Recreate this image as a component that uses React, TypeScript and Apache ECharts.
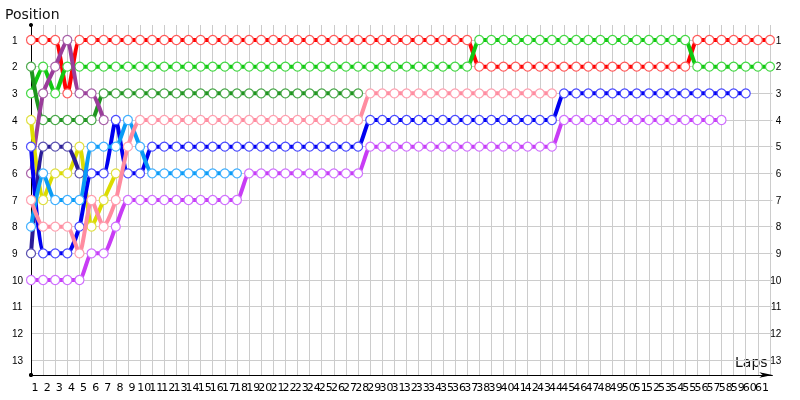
import React, { useEffect, useRef } from "react";
import * as echarts from "echarts";

// Lap 0 = grid position, then laps 1..61
const drivers = ["Red", "Green", "Dark Green", "Purple", "Yellow", "Navy", "Blue", "Light Blue", "Pink", "Violet"];
const lineColors = ["#ff0000", "#11c811", "#1f951f", "#9a3d9a", "#dcdc00", "#2a1c98", "#0000f0", "#0a9cf5", "#ff8ca0", "#c83cf5"];
const markerColors = ["#ff5a5a", "#44d844", "#4aa84a", "#a860a8", "#e0e040", "#5a50b0", "#4a4aff", "#40b0ff", "#ffa0b0", "#d070ff"];

const redPos = [1, 1, 1, 3, 1, 1, 1, 1, 1, 1, 1, 1, 1, 1, 1, 1, 1, 1, 1, 1, 1, 1, 1, 1, 1, 1, 1, 1, 1, 1, 1, 1, 1, 1, 1, 1, 1, 2, 2, 2, 2, 2, 2, 2, 2, 2, 2, 2, 2, 2, 2, 2, 2, 2, 2, 1, 1, 1, 1, 1, 1, 1];
const greenPos = [3, 2, 3, 2, 2, 2, 2, 2, 2, 2, 2, 2, 2, 2, 2, 2, 2, 2, 2, 2, 2, 2, 2, 2, 2, 2, 2, 2, 2, 2, 2, 2, 2, 2, 2, 2, 2, 1, 1, 1, 1, 1, 1, 1, 1, 1, 1, 1, 1, 1, 1, 1, 1, 1, 1, 2, 2, 2, 2, 2, 2, 2];
const darkGreenPos = [2, 4, 4, 4, 4, 4, 3, 3, 3, 3, 3, 3, 3, 3, 3, 3, 3, 3, 3, 3, 3, 3, 3, 3, 3, 3, 3, 3];
const purplePos = [6, 3, 2, 1, 3, 3, 4];
const yellowPos = [4, 7, 6, 6, 5, 8, 7, 6];
const navyPos = [9, 5, 5, 5, 6];
const bluePos = [5, 9, 9, 9, 8, 6, 6, 4, 6, 6, 5, 5, 5, 5, 5, 5, 5, 5, 5, 5, 5, 5, 5, 5, 5, 5, 5, 5, 4, 4, 4, 4, 4, 4, 4, 4, 4, 4, 4, 4, 4, 4, 4, 4, 3, 3, 3, 3, 3, 3, 3, 3, 3, 3, 3, 3, 3, 3, 3, 3];
const lightBluePos = [8, 6, 7, 7, 7, 5, 5, 5, 4, 5, 6, 6, 6, 6, 6, 6, 6, 6];
const pinkPos = [7, 8, 8, 8, 9, 7, 8, 7, 5, 4, 4, 4, 4, 4, 4, 4, 4, 4, 4, 4, 4, 4, 4, 4, 4, 4, 4, 4, 3, 3, 3, 3, 3, 3, 3, 3, 3, 3, 3, 3, 3, 3, 3, 3];
const violetPos = [10, 10, 10, 10, 10, 9, 9, 8, 7, 7, 7, 7, 7, 7, 7, 7, 7, 7, 6, 6, 6, 6, 6, 6, 6, 6, 6, 6, 5, 5, 5, 5, 5, 5, 5, 5, 5, 5, 5, 5, 5, 5, 5, 5, 4, 4, 4, 4, 4, 4, 4, 4, 4, 4, 4, 4, 4, 4];

const allPositions = [redPos, greenPos, darkGreenPos, purplePos, yellowPos, navyPos, bluePos, lightBluePos, pinkPos, violetPos];
const positionTicks = [1, 2, 3, 4, 5, 6, 7, 8, 9, 10, 11, 12, 13];
const lastLap = 61;

export default function App() {
  const ref = useRef<HTMLDivElement>(null);
  useEffect(() => {
    if (!ref.current) return;
    const chart = echarts.init(ref.current, null, { renderer: "svg" });
    const series = allPositions.map((pos, i) => ({
      type: "line",
      name: drivers[i],
      data: pos.map((p, lap) => [lap, p]),
      smooth: 0.2,
      symbol: "circle",
      symbolSize: 9,
      showAllSymbol: true,
      lineStyle: { color: lineColors[i], width: 4 },
      itemStyle: { color: "#ffffff", borderColor: markerColors[i], borderWidth: 1.2 },
      emphasis: { disabled: true },
      z: 2 + i,
    }));
    chart.setOption({
      animation: false,
      grid: { left: 31, right: 27.6, top: 25, bottom: 25, containLabel: false, outerBoundsMode: "none" },
      xAxis: {
        type: "value",
        min: 0,
        max: lastLap + 0.2,
        interval: 1,
        axisLine: {
          show: true,
          onZero: false,
          lineStyle: { color: "#000", width: 1 },
          symbol: ["circle", "arrow"],
          symbolSize: [4, 13],
        },
        axisTick: { show: false },
        axisLabel: {
          formatter: (v: number) => (Number.isInteger(v) && v > 0 ? String(v) : ""),
          fontFamily: "DejaVu Sans",
          fontSize: 11,
          color: "#000",
          margin: 7,
          padding: [0, 16, 0, 0],
        },
        splitLine: { show: true, showMinLine: false, showMaxLine: false, lineStyle: { color: "#cccccc", width: 1 } },
      },
      yAxis: [
        {
          type: "value",
          inverse: true,
          min: 0.4375,
          max: 13.5625,
          position: "left",
          axisLine: { show: true, onZero: false, lineStyle: { color: "#000", width: 1 }, symbol: ["circle", "circle"], symbolSize: [4, 4] },
          axisTick: { show: false, customValues: positionTicks },
          axisLabel: { customValues: positionTicks, align: "left", margin: 19, fontFamily: "Liberation Sans", fontSize: 10, color: "#000" },
          splitLine: { show: true, lineStyle: { color: "#cccccc", width: 1 } },
        },
        {
          type: "value",
          inverse: true,
          min: 0.4375,
          max: 13.5625,
          position: "right",
          axisLine: { show: false },
          axisTick: { show: false, customValues: positionTicks },
          axisLabel: { customValues: positionTicks, align: "right", margin: 9, fontFamily: "Liberation Sans", fontSize: 10, color: "#000" },
          splitLine: { show: false },
        },
      ],
      graphic: [
        { type: "text", left: 5, top: 7, style: { text: "Position", fontFamily: "DejaVu Sans", fontSize: 14, fill: "#111" } },
        { type: "text", left: 735, top: 355, style: { text: "Laps", fontFamily: "DejaVu Sans", fontSize: 14, fill: "#111" } },
      ],
      series,
    });
    return () => chart.dispose();
  }, []);
  return <div ref={ref} style={{ position: "fixed", left: 0, top: 0, width: 800, height: 400 }} />;
}
